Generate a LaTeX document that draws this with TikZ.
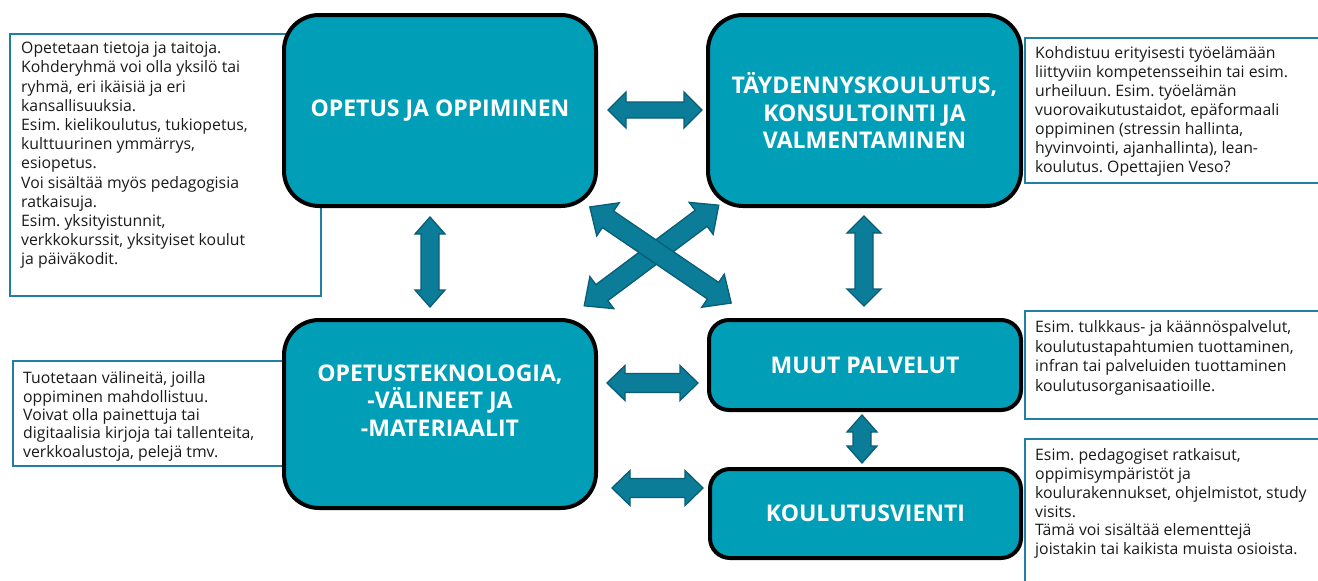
\documentclass[tikz,border=0pt]{standalone}
\usepackage{fontspec}
\setmainfont{Open Sans}
\frenchspacing
\definecolor{tealfill}{HTML}{009FB7}
\definecolor{arrowfill}{HTML}{0B7D99}
\definecolor{arrowline}{HTML}{0A5D77}
\definecolor{boxline}{HTML}{1F80A4}
\definecolor{txt}{HTML}{1A1A1A}
\tikzset{
  mainbox/.style={draw=black, line width=4pt, fill=tealfill, rounded corners=#1, inner sep=0pt},
  headtext/.style={text=white, font=\bfseries\fontsize{23}{27.5}\selectfont, align=center, inner sep=0pt},
  infobox/.style={draw=boxline, line width=2.5pt, fill=white},
  infotext/.style={text=txt, anchor=north west, inner sep=0pt, align=left, font=\frenchspacing\fontsize{15.8}{#1}\selectfont},
  arrowsty/.style={draw=arrowline, line width=1.3pt, fill=arrowfill, line join=miter},
  pics/dbl/.style args={#1/#2/#3/#4}{code={
    \draw[arrowsty] (-#1/2,0) -- (-#1/2+#4,#3) -- (-#1/2+#4,#2) -- (#1/2-#4,#2) -- (#1/2-#4,#3) -- (#1/2,0) -- (#1/2-#4,-#3) -- (#1/2-#4,-#2) -- (-#1/2+#4,-#2) -- (-#1/2+#4,-#3) -- cycle;
  }}
}
\begin{document}
\begin{tikzpicture}[x=1pt,y=-1pt]
\useasboundingbox (0,0) rectangle (1318,581);
\clip (0,0) rectangle (1318,581);
\fill[white] (0,0) rectangle (1318,581);

% info boxes (behind)
\draw[infobox] (10,34) rectangle (321,296);
\draw[infobox] (1025,38) rectangle (1335,183);
\draw[infobox] (13,361) rectangle (300,466);
\draw[infobox] (1025,311) rectangle (1335,419);
\draw[infobox] (1025,439) rectangle (1335,600);

\node[infotext=19.2] (tl) at (21,42) {Opetetaan tietoja ja taitoja.\\Kohderyhmä voi olla yksilö tai\\ryhmä, eri ikäisiä ja eri\\kansallisuuksia.\\Esim. kielikoulutus, tukiopetus,\\kulttuurinen ymmärrys,\\esiopetus.\\Voi sisältää myös pedagogisia\\ratkaisuja.\\Esim. yksityistunnit,\\verkkokurssit, yksityiset koulut\\ja päiväkodit.};
\node[infotext=18.9] (tr) at (1035,46.7) {Kohdistuu erityisesti työelämään\\liittyviin kompetensseihin tai esim.\\urheiluun. Esim. työelämän\\vuorovaikutustaidot, epäformaali\\oppiminen (stressin hallinta,\\hyvinvointi, ajanhallinta), lean-\\koulutus. Opettajien Veso?};
\node[infotext=18.3] (lm) at (23,371.7) {Tuotetaan välineitä, joilla\\oppiminen mahdollistuu.\\Voivat olla painettuja tai\\digitaalisia kirjoja tai tallenteita,\\verkkoalustoja, pelejä tmv.};
\node[infotext=19.4] (rm) at (1035,320.7) {Esim. tulkkaus- ja käännöspalvelut,\\koulutustapahtumien tuottaminen,\\infran tai palveluiden tuottaminen\\koulutusorganisaatioille.};
\node[infotext=18.7] (rb) at (1035,448.7) {Esim. pedagogiset ratkaisut,\\oppimisympäristöt ja\\koulurakennukset, ohjelmistot, study\\visits.\\Tämä voi sisältää elementtejä\\joistakin tai kaikista muista osioista.};

% main boxes
\node[mainbox=35pt, minimum width=312pt, minimum height=191pt] (A) at (440,110.5) {};
\node[mainbox=35pt, minimum width=313pt, minimum height=191pt] (B) at (864.5,110.5) {};
\node[mainbox=35pt, minimum width=312pt, minimum height=188pt] (C) at (440,414) {};
\node[mainbox=20pt, minimum width=312pt, minimum height=90pt] (D) at (865,365) {};
\node[mainbox=20pt, minimum width=311pt, minimum height=89pt] (E) at (865.5,513.5) {};

\node[headtext] (At) at (A.center) {OPETUS JA OPPIMINEN};
\node[headtext] (Bt) at (B.center) {TÄYDENNYSKOULUTUS,\\KONSULTOINTI JA\\VALMENTAMINEN};
\node[headtext] (Ct) at ([yshift=13.5pt]C.center) {OPETUSTEKNOLOGIA,\\-VÄLINEET JA\\-MATERIAALIT};
\node[headtext] (Dt) at (D.center) {MUUT PALVELUT};
\node[headtext] (Et) at (E.center) {KOULUTUSVIENTI};

% block arrows
\pic at (655,110) {dbl=94/8/18/18};
\pic at (652.5,383) {dbl=91/9.5/17.5/18};
\pic at (657.5,488) {dbl=91/9.5/17.5/18};
\pic[rotate=90] at (430,262) {dbl=90/9/15/17};
\pic[rotate=90] at (864,261) {dbl=90/9/17/17};
\pic[rotate=90] at (862,439) {dbl=48/9/15/17};
\pic[rotate=36.8] at (651.5,255.5) {dbl=168/10/20/22};
\pic[rotate=-34.2] at (660.5,255) {dbl=171/10/20/22};
\end{tikzpicture}
\end{document}
